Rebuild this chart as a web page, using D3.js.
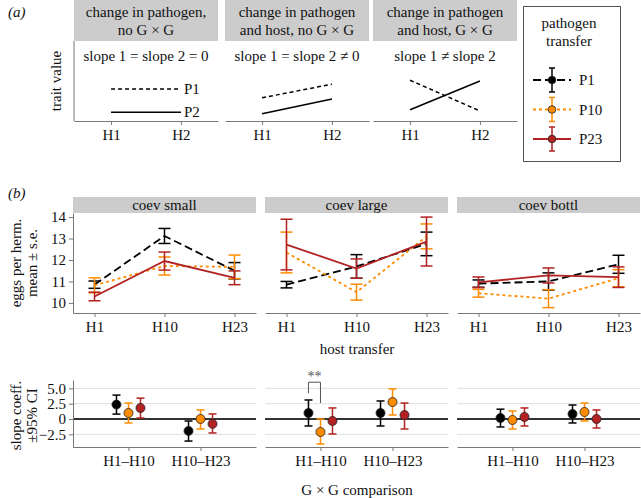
<!DOCTYPE html>
<html><head><meta charset="utf-8">
<script src="https://cdn.jsdelivr.net/npm/d3@7"></script>
<style>body{margin:0;background:#fff}svg, svg text{font-family:"Liberation Serif","Times New Roman",Times,serif}</style>
</head><body><svg id="c" width="641" height="498" font-family="Liberation Serif, Times New Roman, serif"></svg>
<script>
// ---------- data ----------
const schemeTitles = [["change in pathogen,","no G × G"],["change in pathogen","and host,  no G × G"],["change in pathogen","and host, G × G"]];
const schemeSubtitles = ["slope 1 = slope 2 = 0","slope 1 = slope 2 ≠ 0","slope 1 ≠ slope 2"];
const schemeHosts = ["H1","H2"];
const schemeP1 = [[0.40,0.40],[0.29,0.46],[0.51,0.125]];
const schemeP2 = [[0.11,0.11],[0.09,0.275],[0.14,0.50]];

const treatments = ["coev small","coev large","coev bottl"];
const hostLevels = ["H1","H10","H23"];
const pathogens = ["P1","P10","P23"];
const eggTicks = [10,11,12,13,14];
// mean eggs per herm, [treatment][host]
const eggMeanP1  = [[10.85,13.12,11.5],[10.85,11.7,12.75],[10.9,11.0,11.8]];
const eggSeP1    = [[0.17,0.35,0.38],[0.15,0.55,0.55],[0.17,0.4,0.42]];
const eggMeanP10 = [[10.82,11.72,11.68],[12.35,10.5,13.1],[10.45,10.2,11.15]];
const eggSeP10   = [[0.35,0.42,0.55],[0.95,0.37,0.58],[0.18,0.42,0.4]];
const eggMeanP23 = [[10.3,11.95,11.17],[12.72,11.6,12.86],[10.96,11.28,11.2]];
const eggSeP23   = [[0.2,0.42,0.32],[1.18,0.45,1.14],[0.25,0.35,0.48]];

const comparisons = ["H1–H10","H10–H23"];
const slopeTicks = [-2.5,0,2.5,5.0];
const slopeTickLabels = ["−2.5","0","2.5","5.0"];
// slope coefficient, [treatment][comparison]
const slopeP1  = [[2.35,-1.95],[0.98,0.98],[0.16,0.82]];
const slopeLoP1 = [[0.8,-3.6],[-1.14,-1.14],[-1.3,-0.65]];
const slopeHiP1 = [[3.9,-0.33],[3.1,2.94],[1.6,2.28]];
const slopeP10  = [[0.98,0.0],[-2.12,2.77],[-0.16,1.14]];
const slopeLoP10 = [[-0.65,-1.63],[-4.08,0.65],[-1.63,-0.33]];
const slopeHiP10 = [[2.6,1.47],[0.0,4.9],[1.3,2.6]];
const slopeP23  = [[1.8,-0.8],[-0.33,0.65],[0.33,0.0]];
const slopeLoP23 = [[0.16,-2.28],[-2.45,-1.63],[-1.14,-1.47]];
const slopeHiP23 = [[3.4,0.82],[1.8,2.6],[1.8,1.47]];
// significance bracket: treatment, comparison, pathogens, label
const sigTreatment = 1, sigComparison = 0, sigPair = [0,1], sigLabel = "**";
const sigTop = 6.0, sigLeftEnd = 4.2, sigRightEnd = 2.6;

// ---------- styles ----------
const FONT = "Liberation Serif";
const colors = ["#000000","#FF8C00","#B22222"];
const dashes = ["8,4","3,3",null];
const axisCol = "#777", stripCol = "#cccccc";

const svg = d3.select("#c");
const txt = (sel)=>sel.append("text").attr("font-family",FONT).attr("font-size",15).attr("fill","#111");
const series = pathogens.map((p,i)=>({
  name:p, color:colors[i], dash:dashes[i],
  mean:[eggMeanP1,eggMeanP10,eggMeanP23][i], se:[eggSeP1,eggSeP10,eggSeP23][i],
  slope:[slopeP1,slopeP10,slopeP23][i], lo:[slopeLoP1,slopeLoP10,slopeLoP23][i], hi:[slopeHiP1,slopeHiP10,slopeHiP23][i]
}));

// ---------- panel (a) ----------
txt(svg).attr("x",8).attr("y",17).attr("font-style","italic").text("(a)");
const aLefts=[74,225,373], aW=144, aTop=41, aBot=121;
const ya = d3.scaleLinear().domain([0,1]).range([aBot,aBot-80]);
txt(svg).attr("transform",`translate(61,${(aTop+aBot)/2}) rotate(-90)`).attr("text-anchor","middle").text("trait value");
function styleAxis(ax){
  ax.attr("font-family",FONT);
  ax.select(".domain").attr("stroke",axisCol);
  ax.selectAll(".tick line").attr("stroke",axisCol);
  ax.selectAll("text").attr("font-size",15).attr("font-family",FONT).attr("fill","#111");
}
aLefts.forEach((L,k)=>{
  const g = svg.append("g");
  g.append("rect").attr("x",L).attr("y",0).attr("width",aW).attr("height",aTop).attr("fill",stripCol);
  schemeTitles[k].forEach((t,j)=>txt(g).attr("x",L+aW/2).attr("y",17+j*18).attr("text-anchor","middle").text(t));
  txt(g).attr("x",L+aW/2).attr("y",61).attr("text-anchor","middle").text(schemeSubtitles[k]);
  const xa = d3.scalePoint().domain(schemeHosts).range([L,L+aW]).padding(0.53);
  styleAxis(g.append("g").attr("transform",`translate(0,${aBot})`).call(d3.axisBottom(xa).tickSize(4).tickSizeOuter(0).tickPadding(4)));
  const line = d3.line().x((d,i)=>xa(schemeHosts[i])).y(d=>ya(d));
  g.append("path").attr("d",line(schemeP1[k])).attr("fill","none").attr("stroke","#000").attr("stroke-width",1.5).attr("stroke-dasharray","4,3");
  g.append("path").attr("d",line(schemeP2[k])).attr("fill","none").attr("stroke","#000").attr("stroke-width",1.5);
  if(k===0){
    txt(g).attr("x",xa("H2")+3).attr("y",ya(schemeP1[k][1])).attr("dy","0.35em").text("P1");
    txt(g).attr("x",xa("H2")+3).attr("y",ya(schemeP2[k][1])).attr("dy","0.35em").text("P2");
  }
});
svg.append("line").attr("x1",74).attr("x2",74).attr("y1",aTop).attr("y2",aBot).attr("stroke",axisCol);

// legend
const lg = svg.append("g");
lg.append("rect").attr("x",523.5).attr("y",6.5).attr("width",97).attr("height",155).attr("fill","none").attr("stroke","#555");
txt(lg).attr("x",569).attr("y",23).attr("dy","0.35em").attr("text-anchor","middle").text("pathogen");
txt(lg).attr("x",569).attr("y",41).attr("dy","0.35em").attr("text-anchor","middle").text("transfer");
series.forEach((s,i)=>{
  const cy = 80+i*29.5, cx=552;
  lg.append("line").attr("x1",533).attr("x2",571).attr("y1",cy).attr("y2",cy).attr("stroke",s.color).attr("stroke-width",2).attr("stroke-dasharray",s.dash);
  lg.append("line").attr("x1",cx).attr("x2",cx).attr("y1",cy-12).attr("y2",cy+12).attr("stroke",s.color).attr("stroke-width",1.5);
  [cy-12,cy+12].forEach(yy=>lg.append("line").attr("x1",cx-3).attr("x2",cx+3).attr("y1",yy).attr("y2",yy).attr("stroke",s.color).attr("stroke-width",1.5));
  lg.append("circle").attr("cx",cx).attr("cy",cy).attr("r",3.8).attr("fill",s.color).attr("stroke","#222").attr("stroke-width",0.8);
  txt(lg).attr("x",579).attr("y",cy).attr("dy","0.35em").text(s.name);
});

// ---------- panel (b) ----------
txt(svg).attr("x",8).attr("y",198).attr("font-style","italic").text("(b)");
const bLefts=[73,265,457], bW=183;
const sTop=197, pTop=213, pBot=313;
const yb = d3.scaleLinear().domain([9.53,14.19]).range([pBot,pTop]);
const s2Top=380, s2Bot=447;
const ys = d3.scaleLinear().domain([-4.57,6.36]).range([s2Bot,s2Top]);

const yl1 = txt(svg).attr("transform",`translate(0,${(pTop+pBot)/2}) rotate(-90)`).attr("text-anchor","middle");
yl1.selectAll("tspan").data(["eggs per herm.","mean ± s.e."]).join("tspan").attr("x",0).attr("y",(d,i)=>21+i*16).text(d=>d);
const yl2 = txt(svg).attr("transform",`translate(0,${(s2Top+s2Bot)/2+2}) rotate(-90)`).attr("text-anchor","middle");
yl2.selectAll("tspan").data(["slope coeff.","±95% CI"]).join("tspan").attr("x",0).attr("y",(d,i)=>21+i*16).text(d=>d);
txt(svg).attr("x",357).attr("y",354).attr("text-anchor","middle").text("host transfer");
txt(svg).attr("x",357).attr("y",495).attr("text-anchor","middle").text("G × G comparison");

treatments.forEach((tr,k)=>{
  const L=bLefts[k];
  const g=svg.append("g");
  g.append("rect").attr("x",L).attr("y",sTop).attr("width",bW).attr("height",pTop-sTop).attr("fill",stripCol);
  txt(g).attr("x",L+bW/2).attr("y",(sTop+pTop)/2).attr("dy","0.35em").attr("text-anchor","middle").text(tr);
  const xb = d3.scalePoint().domain(hostLevels).range([L,L+bW]).padding(0.307);
  styleAxis(g.append("g").attr("transform",`translate(0,${pBot})`).call(d3.axisBottom(xb).tickSize(4).tickSizeOuter(0).tickPadding(4)));
  if(k===0){
    styleAxis(g.append("g").attr("transform",`translate(${L},0)`).call(d3.axisLeft(yb).tickValues(eggTicks).tickFormat(d3.format("d")).tickSize(4).tickSizeOuter(0).tickPadding(3)));
  }
  series.forEach(s=>{
    const m=s.mean[k], se=s.se[k];
    g.append("path").attr("d",d3.line().x((d,i)=>xb(hostLevels[i])).y(d=>yb(d))(m))
      .attr("fill","none").attr("stroke",s.color).attr("stroke-width",1.8).attr("stroke-dasharray",s.dash);
    m.forEach((v,i)=>{
      const x=xb(hostLevels[i]);
      g.append("line").attr("x1",x).attr("x2",x).attr("y1",yb(v-se[i])).attr("y2",yb(v+se[i])).attr("stroke",s.color).attr("stroke-width",1.5);
      [v-se[i],v+se[i]].forEach(e=>g.append("line").attr("x1",x-6).attr("x2",x+6).attr("y1",yb(e)).attr("y2",yb(e)).attr("stroke",s.color).attr("stroke-width",1.5));
    });
  });
  // slope panel
  const xs = d3.scalePoint().domain(comparisons).range([L,L+bW]).padding(0.77);
  const dodge = d3.scalePoint().domain(pathogens).range([-12,12]);
  slopeTicks.filter(t=>t!==0).forEach(t=>g.append("line").attr("x1",L).attr("x2",L+bW).attr("y1",ys(t)).attr("y2",ys(t)).attr("stroke","#dedede").attr("stroke-width",1));
  styleAxis(g.append("g").attr("transform",`translate(0,${s2Bot})`).call(d3.axisBottom(xs).tickSize(4).tickSizeOuter(0).tickPadding(4)));
  g.append("line").attr("x1",L).attr("x2",L+bW).attr("y1",ys(0)).attr("y2",ys(0)).attr("stroke","#333").attr("stroke-width",2);
  if(k===0){
    styleAxis(g.append("g").attr("transform",`translate(${L},0)`).call(d3.axisLeft(ys).tickValues(slopeTicks).tickFormat((d,i)=>slopeTickLabels[i]).tickSize(4).tickSizeOuter(0).tickPadding(3)));
  }
  series.forEach(s=>{
    comparisons.forEach((c,j)=>{
      const x=xs(c)+dodge(s.name);
      const lo=s.lo[k][j], hi=s.hi[k][j];
      g.append("line").attr("x1",x).attr("x2",x).attr("y1",ys(lo)).attr("y2",ys(hi)).attr("stroke",s.color).attr("stroke-width",1.5);
      [lo,hi].forEach(e=>g.append("line").attr("x1",x-4).attr("x2",x+4).attr("y1",ys(e)).attr("y2",ys(e)).attr("stroke",s.color).attr("stroke-width",1.5));
      g.append("circle").attr("cx",x).attr("cy",ys(s.slope[k][j])).attr("r",4.5).attr("fill",s.color).attr("stroke","#222").attr("stroke-width",0.8);
    });
  });
  if(k===sigTreatment){
    const x1=xs(comparisons[sigComparison])+dodge(pathogens[sigPair[0]]);
    const x2=xs(comparisons[sigComparison])+dodge(pathogens[sigPair[1]]);
    g.append("path").attr("d",`M${x1},${ys(sigLeftEnd)}V${ys(sigTop)}H${x2}V${ys(sigRightEnd)}`).attr("fill","none").attr("stroke","#555").attr("stroke-width",1);
    txt(g).attr("x",(x1+x2)/2).attr("y",ys(sigTop)-1).attr("text-anchor","middle").attr("font-size",14).attr("fill","#555").text(sigLabel);
  }
});
</script></body></html>
